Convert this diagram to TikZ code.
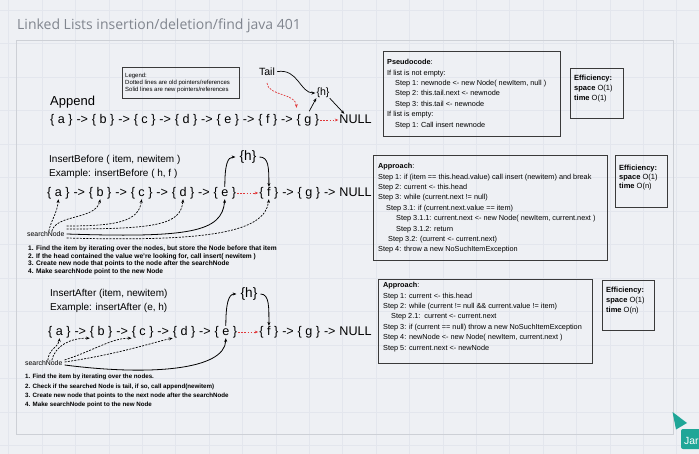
\documentclass[tikz,border=0pt]{standalone}
\usepackage{fontspec}
\setmainfont{Liberation Sans}
\newfontfamily\titlefont{Open Sans}
\usetikzlibrary{arrows.meta,positioning,calc}
\definecolor{bgc}{HTML}{EEF0F4}
\definecolor{gridc}{HTML}{E3E6ED}
\definecolor{framec}{HTML}{CDD0D6}
\definecolor{titlec}{HTML}{80858E}
\definecolor{boxc}{HTML}{3A3A3A}
\definecolor{redc}{HTML}{E0383A}
\definecolor{cursorc}{HTML}{1FA697}
\newcommand\fsz[2]{\fontsize{#1pt}{#2pt}\selectfont}
\tikzset{
 ch/.style={inner sep=0pt, font=\fsz{12.6}{15}, text height=9.3pt, text depth=2.7pt},
 lbl/.style={inner sep=0pt, anchor=west, font=\fsz{10}{12}},
 hlbl/.style={inner sep=0pt, font=\fsz{13.6}{16}},
 sn/.style={inner sep=0pt, anchor=west, font=\fsz{6.9}{8}},
 notes/.style={inner sep=0pt, anchor=north west, align=left, font=\bfseries\fsz{6.6}{7.5}},
 box/.style={draw=boxc, line width=0.8pt, inner sep=0pt, anchor=north west},
 boxtxt/.style={inner sep=0pt, anchor=north west, align=left, font=\fsz{7.3}{10.4}},
 arr/.style={-{Stealth[length=3.8pt,width=3pt]}, line width=0.7pt, draw=black},
 darr/.style={arr, dash pattern=on 2pt off 1.3pt},
 rarr/.style={-{Stealth[length=3.5pt,width=2.8pt]}, line width=0.7pt, draw=redc, dash pattern=on 1.8pt off 1.3pt},
}
\begin{document}
\begin{tikzpicture}[x=1pt,y=-1pt]
\fill[bgc] (0,0) rectangle (699,454);
\useasboundingbox (0,0) rectangle (699,454);
\begin{scope}
\clip (0,0) rectangle (699,454);
\foreach \i in {0,...,20} \draw[gridc, line width=0.8pt] ({8.7+33.4*\i},0) -- ++(0,454);
\foreach \j in {0,...,13} \draw[gridc, line width=0.8pt] (0,{10+33.5*\j}) -- ++(699,0);
\end{scope}
% frame
\draw[framec!85!black, line width=1.6pt] (17,434.5) -- (673.5,434.5) -- (673.5,42);
\draw[framec, line width=1pt] (16,41) rectangle (673,434);
% title
\node[anchor=base west, font=\titlefont\fsz{14}{17}, text=titlec, inner sep=0pt] (title) at (17,29.5) {Linked Lists insertion/deletion/find java 401};

% ================= Append =================
\node[lbl, font=\fsz{13}{15}] (append) at (50,102) {Append};
\node[ch, anchor=west] (A-a) at (50,120) {\{ a \}};
\foreach \cur/\txt [remember=\cur as \prv (initially A-a)] in {A-ab/->,A-b/\{ b \},A-bc/->,A-c/\{ c \},A-cd/->,A-d/\{ d \},A-de/->,A-e/\{ e \},A-ef/->,A-f/\{ f \},A-fg/->,A-g/\{ g \}}
  {\node[ch, right=3.5pt of \prv] (\cur) {\txt};}
\node[ch, right=20pt of A-g] (A-null) {NULL};
\node[box, minimum width=117pt, minimum height=31pt] (legend) at (122,67) {};
\node[boxtxt, font=\fsz{6}{7}] (legendtxt) at (125,72.5) {Legend:\\Dotted lines are old pointers/references\\Solid lines are new pointers/references};
\node[inner sep=0pt, font=\fsz{10.5}{12}] (tail) at (267,72) {Tail};
\node[inner sep=0pt, font=\fsz{10.6}{12}] (hA) at (323,93) {\{h\}};
\draw[arr, shorten <=2pt, shorten >=1pt] (tail.east) .. controls (298,68) and (300,93) .. (hA.west);
\draw[rarr] ($(tail.south)+(0,7)$) .. controls (268,96) and (296,93) .. ($(A-g.north west)+(0,-6)$);
\draw[arr, shorten <=3pt] (A-g.north) -- (hA.south west);
\draw[arr] (hA.south east) -- ($(A-null.north west)+(5,0)$);
\draw[rarr, shorten <=1pt, shorten >=1pt] (A-g.east) -- (A-null.west);

\node[box, minimum width=177pt, minimum height=85pt] (pseudo) at (383,51) {};
\node[boxtxt] (pseudotxt) at (387,59.3) {\textbf{Pseudocode}:\\
If list is not empty:\\
\hspace*{8pt}Step 1: newnode <- new Node( newItem, null )\\
\hspace*{8pt}Step 2: this.tail.next <- newnode\\
\hspace*{8pt}Step 3: this.tail <- newnode\\
If list is empty:\\
\hspace*{8pt}Step 1: Call insert newnode};
\node[box, minimum width=53pt, minimum height=50pt] (eff1) at (570,68) {};
\node[boxtxt, font=\fsz{7.5}{10}] (eff1txt) at (574,75.3) {\textbf{Efficiency:}\\\textbf{space} O(1)\\\textbf{time} O(1)};

% ================= InsertBefore =================
\node[lbl] (ibT) at (49,160) {InsertBefore ( item, newitem )};
\node[lbl] (ibE) at (49,174) {Example: insertBefore ( h, f )};
\node[ch, anchor=west] (B-a) at (47,193) {\{ a \}};
\foreach \cur/\txt [remember=\cur as \prv (initially B-a)] in {B-ab/->,B-b/\{ b \},B-bc/->,B-c/\{ c \},B-cd/->,B-d/\{ d \},B-de/->,B-e/\{ e \}}
  {\node[ch, right=3.5pt of \prv] (\cur) {\txt};}
\node[ch, right=23pt of B-e] (B-f) {\{ f \}};
\foreach \cur/\txt [remember=\cur as \prv (initially B-f)] in {B-fg/->,B-g/\{ g \},B-gn/->,B-null/NULL}
  {\node[ch, right=3.5pt of \prv] (\cur) {\txt};}
\node[hlbl] (hB) at (248,157) {\{h\}};
\draw[arr, line width=0.8pt, shorten >=4pt] (B-e.north) .. controls ($(B-e.north)+(0,-22)$) and ($(hB.west)+(-12,0)$) .. (hB.west);
\draw[arr, line width=0.8pt, shorten <=3pt] (hB.east) .. controls ($(hB.east)+(12,0)$) and ($(B-f.north)+(0,-20)$) .. (B-f.north);
\draw[rarr, shorten <=1pt, shorten >=1pt] (B-e.east) -- (B-f.west);
\node[sn] (sB) at (27,234) {searchNode};
\draw[darr] ($(sB.north)+(3,0)$) .. controls (51,220) and (57,214) .. (B-a.south);
\draw[darr] ($(sB.north)+(6,0)$) .. controls (56,214) and (96,220) .. (B-b.south);
\draw[darr] ($(sB.east)+(2,-8)$) .. controls (115,226) and (139,222) .. (B-c.south);
\draw[darr] ($(sB.east)+(2,-5)$) .. controls (155,229) and (181,225) .. (B-d.south);
\draw[arr, line width=0.8pt] ($(sB.east)+(2,0)$) .. controls (190,238) and (222,232) .. (B-e.south);
\draw[darr] ($(sB.east)+(2,4)$) .. controls (210,242) and (265,232) .. (B-f.south);
\node[notes] (notesB) at (28,246) {1. Find the item by iterating over the nodes, but store the Node before that item\\
2. If the head contained the value we're looking for, call insert( newitem )\\
3. Create new node that points to the node after the searchNode\\
4. Make searchNode point to the new Node};

\node[box, minimum width=234pt, minimum height=105pt] (appr2) at (373,155) {};
\node[boxtxt] (appr2txt) at (378,163.3) {\textbf{Approach}:\\
Step 1: if (item == this.head.value) call insert (newitem) and break\\
Step 2: current <- this.head\\
Step 3: while (current.next != null)\\
\hspace*{8pt}Step 3.1: if (current.next.value == item)\\
\hspace*{18pt}Step 3.1.1: current.next <- new Node( newItem, current.next )\\
\hspace*{18pt}Step 3.1.2: return\\
\hspace*{10pt}Step 3.2: (current <- current.next)\\
Step 4: throw a new NoSuchItemException};
\node[box, minimum width=52pt, minimum height=52pt] (eff2) at (615,155) {};
\node[boxtxt, font=\fsz{7.5}{9}] (eff2txt) at (619,165.3) {\textbf{Efficiency:}\\\textbf{space} O(1)\\\textbf{time} O(n)};

% ================= InsertAfter =================
\node[lbl] (iaT) at (50,294) {InsertAfter (item, newitem)};
\node[lbl] (iaE) at (50,308) {Example: insertAfter (e, h)};
\node[ch, anchor=west] (C-a) at (48,332) {\{ a \}};
\foreach \cur/\txt [remember=\cur as \prv (initially C-a)] in {C-ab/->,C-b/\{ b \},C-bc/->,C-c/\{ c \},C-cd/->,C-d/\{ d \},C-de/->,C-e/\{ e \}}
  {\node[ch, right=3.5pt of \prv] (\cur) {\txt};}
\node[ch, right=22pt of C-e] (C-f) {\{ f \}};
\foreach \cur/\txt [remember=\cur as \prv (initially C-f)] in {C-fg/->,C-g/\{ g \},C-gn/->,C-null/NULL}
  {\node[ch, right=3.5pt of \prv] (\cur) {\txt};}
\node[hlbl] (hC) at (249,294) {\{h\}};
\draw[arr, line width=0.8pt, shorten >=4pt] (C-e.north) .. controls ($(C-e.north)+(0,-22)$) and ($(hC.west)+(-12,0)$) .. (hC.west);
\draw[arr, line width=0.8pt, shorten <=3pt] (hC.east) .. controls ($(hC.east)+(12,0)$) and ($(C-f.north)+(0,-18)$) .. (C-f.north);
\draw[rarr, shorten <=1pt, shorten >=1pt] (C-e.east) -- (C-f.west);
\node[sn] (sC) at (25,363) {searchNode};
\draw[darr] ($(sC.north)+(4,0)$) .. controls (49,348) and (59,347) .. (C-a.south);
\draw[darr] ($(sC.north)+(8,0)$) .. controls (55,346) and (70,338) .. (C-b.south west);
\draw[darr] ($(sC.east)+(2,-3)$) .. controls (95,350) and (112,338) .. (C-c.south west);
\draw[darr] ($(sC.east)+(2,-1)$) .. controls (120,354) and (158,341) .. (C-d.south west);
\draw[arr, line width=0.8pt] ($(sC.east)+(2,2)$) .. controls (150,376) and (225,370) .. (C-e.south);
\node[notes, font=\bfseries\fsz{6.2}{9.4}] (notesC) at (25,374) {1. Find the item by iterating over the nodes.\\
2. Check if the searched Node is tail, if so, call append(newitem)\\
3. Create new node that points to the next node after the searchNode\\
4. Make searchNode point to the new Node};

\node[box, minimum width=214pt, minimum height=84pt] (appr3) at (378,279) {};
\node[boxtxt] (appr3txt) at (383,282.3) {\textbf{Approach}:\\
Step 1: current <- this.head\\
Step 2: while (current != null \&\& current.value != item)\\
\hspace*{8pt}Step 2.1:\ \ current <- current.next\\
Step 3: if (current == null) throw a new NoSuchItemException\\
Step 4: newNode <- new Node( newItem, current.next )\\
Step 5: current.next <- newNode};
\node[box, minimum width=52pt, minimum height=50pt] (eff3) at (602,280) {};
\node[boxtxt, font=\fsz{7.5}{9.7}] (eff3txt) at (606,287.3) {\textbf{Efficiency:}\\\textbf{space} O(1)\\\textbf{time} O(n)};

% ================= cursor =================
\begin{scope}
\clip (0,0) rectangle (699,454);
\fill[cursorc] (672.5,412) -- (687,423) -- (676,429.5) -- cycle;
\fill[cursorc, rounded corners=2pt] (681,429) rectangle (712,449);
\node[text=white, font=\fsz{10.4}{13}, anchor=base west, inner sep=0pt] (cur) at (684,444.5) {Jar};
\end{scope}
\end{tikzpicture}
\end{document}
